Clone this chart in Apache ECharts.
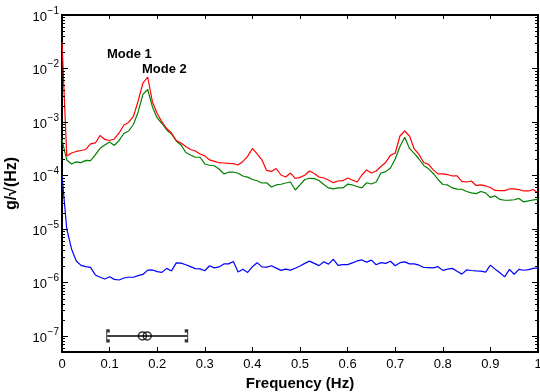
<!DOCTYPE html>
<html>
<head>
<meta charset="utf-8">
<script src="https://cdn.jsdelivr.net/npm/echarts@6/dist/echarts.min.js"></script>
<style>
  html, body { margin: 0; padding: 0; background: #fff; }
  #chart { width: 540px; height: 392px; }
</style>
</head>
<body>
<div id="chart"></div>
<script>
// frequency grid (Hz)
const freq = [
  0.00, 0.01, 0.02, 0.03, 0.04, 0.05, 0.06, 0.07, 0.08, 0.09,
  0.10, 0.11, 0.12, 0.13, 0.14, 0.15, 0.16, 0.17, 0.18, 0.19,
  0.20, 0.21, 0.22, 0.23, 0.24, 0.25, 0.26, 0.27, 0.28, 0.29,
  0.30, 0.31, 0.32, 0.33, 0.34, 0.35, 0.36, 0.37, 0.38, 0.39,
  0.40, 0.41, 0.42, 0.43, 0.44, 0.45, 0.46, 0.47, 0.48, 0.49,
  0.50, 0.51, 0.52, 0.53, 0.54, 0.55, 0.56, 0.57, 0.58, 0.59,
  0.60, 0.61, 0.62, 0.63, 0.64, 0.65, 0.66, 0.67, 0.68, 0.69,
  0.70, 0.71, 0.72, 0.73, 0.74, 0.75, 0.76, 0.77, 0.78, 0.79,
  0.80, 0.81, 0.82, 0.83, 0.84, 0.85, 0.86, 0.87, 0.88, 0.89,
  0.90, 0.91, 0.92, 0.93, 0.94, 0.95, 0.96, 0.97, 0.98, 0.99,
  1.00
];

// red spectrum
const red = [
  3.1e-2, 2.3e-4, 2.63e-4, 2.81e-4, 2.93e-4, 3.06e-4, 3.88e-4, 4.05e-4, 5.59e-4, 4.71e-4,
  4.51e-4, 4.81e-4, 6.22e-4, 8.78e-4, 9.78e-4, 1.27e-3, 2.47e-3, 5.35e-3, 6.93e-3, 2.37e-3,
  1.44e-3, 1.0e-3, 7.55e-4, 6.22e-4, 4.51e-4, 4.05e-4, 3.48e-4, 3.06e-4, 2.87e-4, 2.52e-4,
  2.32e-4, 1.95e-4, 1.83e-4, 1.73e-4, 1.71e-4, 1.68e-4, 1.66e-4, 1.57e-4, 1.83e-4, 2.27e-4,
  3.20e-4, 2.52e-4, 1.95e-4, 1.24e-4, 1.19e-4, 1.35e-4, 1.02e-4, 9.36e-5, 1.11e-4, 8.78e-5,
  9.2e-5, 1.01e-4, 1.21e-4, 1.09e-4, 9.36e-5, 8.97e-5, 8.23e-5, 7.33e-5, 7.88e-5, 7.99e-5,
  8.97e-5, 8.23e-5, 7.55e-5, 1.02e-4, 1.27e-4, 1.11e-4, 1.21e-4, 1.47e-4, 1.75e-4, 2.37e-4,
  2.63e-4, 5.47e-4, 6.78e-4, 5.47e-4, 3.13e-4, 2.47e-4, 1.75e-4, 1.61e-4, 1.27e-4, 1.07e-4,
  1.07e-4, 1.04e-4, 9.78e-5, 9.78e-5, 7.72e-5, 7.55e-5, 7.88e-5, 6.50e-5, 6.64e-5, 6.36e-5,
  5.96e-5, 5.24e-5, 5.2e-5, 5.2e-5, 5.59e-5, 5.59e-5, 5.45e-5, 5.13e-5, 5.13e-5, 5.47e-5,
  4.71e-5
];

// green spectrum
const green = [
  4.61e-4, 1.95e-4, 1.64e-4, 1.79e-4, 1.74e-4, 1.91e-4, 1.89e-4, 2.42e-4, 3.22e-4, 3.72e-4,
  4.23e-4, 3.64e-4, 4.51e-4, 6.09e-4, 6.78e-4, 8.97e-4, 1.54e-3, 3.27e-3, 4.05e-3, 1.91e-3,
  1.19e-3, 9.36e-4, 7.08e-4, 5.96e-4, 4.41e-4, 3.72e-4, 2.69e-4, 2.42e-4, 2.19e-4, 2.19e-4,
  1.64e-4, 1.55e-4, 1.52e-4, 1.32e-4, 1.07e-4, 1.15e-4, 1.16e-4, 1.10e-4, 9.78e-5, 9.29e-5,
  8.4e-5, 7.95e-5, 7.23e-5, 7.3e-5, 6.09e-5, 6.64e-5, 6.84e-5, 7.23e-5, 7.55e-5, 5.35e-5,
  6.64e-5, 8.4e-5, 8.85e-5, 8.7e-5, 8.06e-5, 6.78e-5, 5.84e-5, 5.59e-5, 5.84e-5, 5.84e-5,
  6.86e-5, 6.64e-5, 6.22e-5, 5.84e-5, 7.3e-5, 6.93e-5, 7.55e-5, 1.11e-4, 1.18e-4, 1.38e-4,
  2.03e-4, 3.48e-4, 5.17e-4, 3.20e-4, 2.58e-4, 2.03e-4, 1.54e-4, 1.33e-4, 1.09e-4, 8.4e-5,
  6.78e-5, 6.64e-5, 5.84e-5, 5.54e-5, 5.52e-5, 5.02e-5, 4.71e-5, 4.57e-5, 5.02e-5, 4.71e-5,
  3.88e-5, 4.14e-5, 3.56e-5, 3.44e-5, 3.45e-5, 3.51e-5, 3.72e-5, 3.20e-5, 3.34e-5, 3.48e-5,
  3.56e-5
];

// blue spectrum (noise floor)
const blue = [
  1.0e-4, 1.0e-5, 4.23e-6, 2.52e-6, 2.08e-6, 1.97e-6, 1.91e-6, 1.38e-6, 1.25e-6, 1.16e-6,
  1.28e-6, 1.14e-6, 1.11e-6, 1.21e-6, 1.25e-6, 1.25e-6, 1.34e-6, 1.41e-6, 1.70e-6, 1.71e-6,
  1.59e-6, 1.54e-6, 1.83e-6, 1.64e-6, 2.32e-6, 2.29e-6, 2.14e-6, 1.97e-6, 1.81e-6, 1.79e-6,
  1.65e-6, 2.05e-6, 1.87e-6, 1.95e-6, 2.22e-6, 2.22e-6, 2.47e-6, 1.57e-6, 1.76e-6, 1.54e-6,
  1.97e-6, 2.34e-6, 1.95e-6, 1.93e-6, 2.05e-6, 1.85e-6, 1.68e-6, 1.77e-6, 1.70e-6, 1.84e-6,
  2.03e-6, 2.27e-6, 2.50e-6, 2.27e-6, 2.06e-6, 2.44e-6, 2.20e-6, 2.71e-6, 2.08e-6, 2.15e-6,
  2.15e-6, 2.32e-6, 2.52e-6, 2.63e-6, 2.40e-6, 2.61e-6, 2.14e-6, 2.34e-6, 2.27e-6, 2.49e-6,
  2.05e-6, 2.34e-6, 2.42e-6, 2.22e-6, 2.22e-6, 2.10e-6, 1.90e-6, 1.89e-6, 1.87e-6, 1.97e-6,
  1.68e-6, 1.77e-6, 1.83e-6, 1.61e-6, 1.43e-6, 1.71e-6, 1.67e-6, 1.64e-6, 1.62e-6, 1.56e-6,
  2.10e-6, 1.77e-6, 1.52e-6, 1.27e-6, 1.75e-6, 1.42e-6, 1.75e-6, 1.69e-6, 1.74e-6, 1.83e-6,
  1.87e-6
];

// frequency band marker drawn at 1e-7
const bandLevel = 1e-7;
const bandEdges = [0.095, 0.263];
const modeFreqs = [0.169, 0.179];
const modeLabels = ["Mode 1", "Mode 2"];

// tick labels
const xTickLabels = ["0", "0.1", "0.2", "0.3", "0.4", "0.5", "0.6", "0.7", "0.8", "0.9", "1"];
const yTickExps = [-7, -6, -5, -4, -3, -2, -1];

const yMin = 5e-8, yMax = 1e-1;
const FONT = '"Liberation Sans", Arial, sans-serif';

// tick rows for the log axis: [x, value, isMajor, exponent]
const yTickRows = yTickExps.map(e => [0, Math.pow(10, e), 1, e]);
for (let e = -8; e <= -2; e++) {
  for (let m = 2; m <= 9; m++) {
    const v = m * Math.pow(10, e);
    if (v >= yMin && v < yMax) yTickRows.push([0, v, 0, 0]);
  }
}

const chart = echarts.init(document.getElementById("chart"), null, { renderer: "canvas" });

const lineSeries = (data, color) => ({
  type: "line",
  data: freq.map((f, i) => [f, data[i]]),
  showSymbol: false,
  lineStyle: { color: color, width: 1.2 },
  itemStyle: { color: color },
  z: 3
});

const option = {
  animation: false,
  textStyle: { fontFamily: FONT },
  grid: {
    left: 62, right: 2, top: 15, bottom: 40,
    outerBoundsMode: "none", containLabel: false,
    show: true, borderColor: "#000", borderWidth: 2, backgroundColor: "transparent"
  },
  xAxis: [
    {
      type: "value", min: 0, max: 1, interval: 0.1,
      position: "bottom",
      axisLine: { show: true, lineStyle: { color: "#000", width: 2 } },
      axisTick: { show: true, inside: true, length: 5, lineStyle: { color: "#000", width: 1 } },
      axisLabel: { color: "#000", fontSize: 13, fontFamily: FONT, margin: 6,
        formatter: v => xTickLabels[Math.round(v * 10)] },
      splitLine: { show: false },
      name: "Frequency (Hz)", nameLocation: "middle", nameGap: 21,
      nameTextStyle: { color: "#000", fontSize: 15, fontWeight: "bold", fontFamily: FONT }
    },
    {
      type: "value", min: 0, max: 1, interval: 0.1,
      position: "top",
      axisLine: { show: true, lineStyle: { color: "#000", width: 2 } },
      axisTick: { show: true, inside: true, length: 4, lineStyle: { color: "#000", width: 1 } },
      axisLabel: { show: false },
      splitLine: { show: false }
    }
  ],
  yAxis: [
    {
      type: "log", logBase: 10, min: yMin, max: yMax,
      axisLine: { show: true, lineStyle: { color: "#000", width: 2 } },
      axisTick: { show: false },
      axisLabel: { show: false },
      splitLine: { show: false },
      name: "g/√(Hz)", nameLocation: "middle", nameGap: 42,
      nameTextStyle: { color: "#000", fontSize: 16, fontWeight: "bold", fontFamily: FONT }
    }
  ],
  graphic: [
    { type: "text", left: 107, top: 48, style: { text: modeLabels[0], font: "bold 13px " + FONT, fill: "#000" } },
    { type: "text", left: 142, top: 63, style: { text: modeLabels[1], font: "bold 13px " + FONT, fill: "#000" } }
  ],
  series: [
    lineSeries(blue, "#0000ff"),
    lineSeries(green, "#008000"),
    lineSeries(red, "#ff0000"),
    {
      type: "line",
      data: bandEdges.map(f => [f, bandLevel]),
      showSymbol: false,
      lineStyle: { color: "#000", width: 1.5 },
      z: 4
    },
    {
      type: "scatter",
      data: [[bandEdges[0], bandLevel]],
      symbol: "path://M4,0 L0,0 L0,10 L4,10",
      symbolSize: [3, 10],
      symbolOffset: [1, 0],
      itemStyle: { color: "transparent", borderColor: "#000", borderWidth: 1.8 },
      z: 4
    },
    {
      type: "scatter",
      data: [[bandEdges[1], bandLevel]],
      symbol: "path://M0,0 L4,0 L4,10 L0,10",
      symbolSize: [3, 10],
      symbolOffset: [-1, 0],
      itemStyle: { color: "transparent", borderColor: "#000", borderWidth: 1.8 },
      z: 4
    },
    {
      type: "scatter",
      data: modeFreqs.map(f => [f, bandLevel]),
      symbol: "circle",
      symbolSize: 8,
      itemStyle: { color: "transparent", borderColor: "#000", borderWidth: 1.5 },
      z: 5
    },
    {
      // log-axis ticks and 10^n labels, left and right
      type: "custom",
      coordinateSystem: "cartesian2d",
      clip: false,
      silent: true,
      encode: { x: 0, y: 1 },
      data: yTickRows,
      z: 6,
      renderItem: function (params, api) {
        const v = api.value(1);
        const major = api.value(2) === 1;
        const pl = api.coord([0, v]);
        const pr = api.coord([1, v]);
        const y = Math.round(pl[1]) + 0.5;
        const len = major ? 6 : 3;
        const stroke = { stroke: "#000", lineWidth: 1 };
        const children = [
          { type: "line", shape: { x1: pl[0], y1: y, x2: pl[0] + len, y2: y }, style: stroke },
          { type: "line", shape: { x1: pr[0] - len, y1: y, x2: pr[0], y2: y }, style: stroke }
        ];
        if (major) {
          const e = api.value(3);
          children.push({
            type: "text", x: pl[0] - 3, y: y - 4,
            style: { text: "\u2212" + Math.abs(e), font: "10px " + FONT, fill: "#000",
              align: "right", verticalAlign: "middle", textAlign: "right", textVerticalAlign: "middle" }
          });
          children.push({
            type: "text", x: pl[0] - 15, y: y + 1.5,
            style: { text: "10", font: "13px " + FONT, fill: "#000",
              align: "right", verticalAlign: "middle", textAlign: "right", textVerticalAlign: "middle" }
          });
        }
        return { type: "group", children: children };
      }
    }
  ]
};

chart.setOption(option);
</script>
</body>
</html>
